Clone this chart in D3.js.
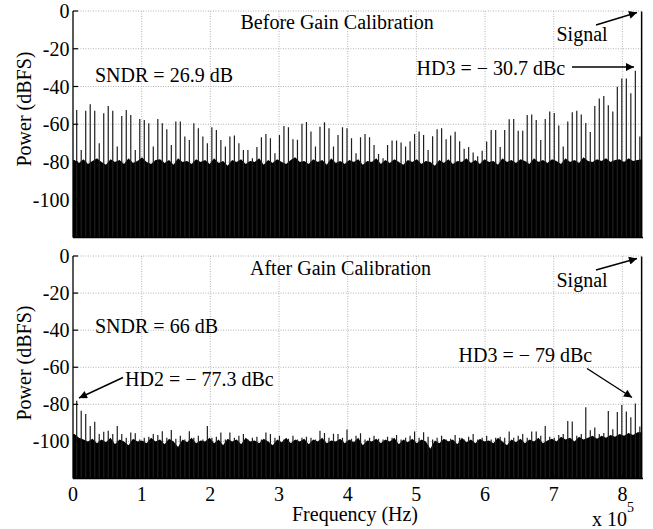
<!DOCTYPE html>
<html>
<head>
<meta charset="utf-8">
<title>Spectrum before / after gain calibration</title>
<script src="https://cdn.jsdelivr.net/npm/d3@7"></script>
<style>
  body { margin: 0; background: #fff; }
  svg text { font-family: "Liberation Serif", "Times New Roman", serif; fill: #000; }
</style>
</head>
<body>
<div id="chart"></div>
<script>
// ---- data ----
var fMax = 8.3e5;            // Nyquist, Hz
var binF0 = 5.4e3;           // first spur bin, Hz
var binDf = 6.56e3;          // spur bin spacing, Hz
var signalF = 8.28e5;        // input tone
var signalDb = -0.3;

var yTicks = [0, -20, -40, -60, -80, -100];
var xTicks = [0, 1, 2, 3, 4, 5, 6, 7, 8];   // x 10^5 Hz

// spur heights, dBFS
var spursBefore = [
  -52.4, -73.6, -52.8, -49.4, -52.8, -70, -54.2, -50.3, -52.8, -71.8,
  -55.6, -52.4, -55.1, -73.6, -57.2, -57.7, -59.5, -71.8, -57.2, -59.5,
  -62.7, -71, -58.6, -58.6, -66.5, -68.3, -59.5, -62.1, -66.5, -70,
  -61.6, -63, -68.3, -71.8, -66.5, -66, -70, -73.6, -73.6, -78,
  -72,
  -66.9, -65.1, -67.4, -75.4, -65.7, -60.9, -61.6, -68, -68.2, -59.8,
  -58.8, -63.9, -71.8, -61.3, -59, -62.1, -71.8, -65.7, -61.6, -62.1,
  -67.4, -75.4, -66.9, -65.1, -66.9, -71, -75.7, -78, -71, -68.6,
  -68.6, -69.7, -71.8, -69, -65.1, -63.9, -65.7, -73.6, -66.3, -62.7,
  -62.1, -68, -66,
  -64, -69, -73, -72, -75, -77, -74,
  -69.2, -63, -63, -72, -63, -57.4, -57.2, -63.5, -63.5, -55.1,
  -54.8, -57.7, -68.3, -57.2, -53.3, -54, -60.7, -71.8, -58.6, -53.7,
  -52.8, -54.8, -59.4, -64.1, -50.3, -46.3, -45, -49.9, -53.3, -40.1,
  -35.7, -35.7, -43.6, -31.6, -66.5
];

var floorBefore = [
  -79, -80.5, -78.5, -81, -79.5, -78, -80, -81.5, -78.5, -80,
  -79, -81, -78, -80.5, -79.5, -77.5, -80, -81, -79, -78.5,
  -80.5, -79, -81.5, -78, -80, -79.5, -81, -78.5, -80, -79,
  -81, -78, -80.5, -79.5, -82, -79, -80, -78.5, -81, -79.5,
  -80, -78, -81.5, -79, -80.5, -78.5, -80, -81, -79, -77.5,
  -80, -79.5, -81, -78.5, -80, -79, -81.5, -78, -80.5, -79.5,
  -81, -79, -80, -78.5, -81.5, -79.5, -80, -78, -81, -79,
  -80.5, -78.5, -80, -81.5, -79, -80, -78.5, -81, -79.5, -80,
  -82, -79, -80.5, -78.5, -81, -79.5, -80, -78, -80.5, -79,
  -81, -78.5, -80, -79.5, -81.5, -78, -80, -79, -80.5, -78.5,
  -79.5, -81, -78, -80, -79, -80.5, -78.5, -79.5, -81, -78,
  -80, -79, -80.5, -77.5, -79.5, -80, -78.5, -79.5, -78, -80,
  -79, -78.5, -80, -78, -79.5, -79, -78.5
];

var spursAfter = [
  -78, -83.4, -85.2, -91.7, -89.4, -96, -94.8, -94.3, -96, -91.7,
  -96, -98, -95.2, -95.6, -99, -98, -97.5, -96, -96.5, -94.5,
  -98, -93.9, -98.5, -97, -99, -94.5, -98, -97, -99, -91.7,
  -98, -97.5, -95.2, -99, -95.2, -98, -97, -96, -99, -98,
  -97.5, -99, -95.2, -96, -98, -97, -99, -98.5, -97, -99,
  -98, -97.5, -98, -99, -94.3, -95.5, -98, -95.8, -96, -98,
  -93.6, -98.5, -97, -95.6, -99, -98, -97, -98.5, -99, -97.5,
  -98, -96.5, -99, -98, -97, -94.6, -98, -95, -97.5, -99,
  -98, -97, -99, -98.5, -96.5, -98, -99, -97.5, -96, -99,
  -98, -97, -99, -98, -97.5, -98, -94.6, -98, -97, -96,
  -98, -94.6, -94.6, -97, -91.7, -97.5, -98, -96.5, -96, -89,
  -89.2, -97, -96, -81.6, -94, -92.5, -96, -95.5, -83.6, -93.5,
  -84.2, -80.4, -83.8, -87, -79.5, -92
];

var floorAfter = [
  -96, -98, -99, -100, -98.5, -101, -99, -100.5, -98, -101.5,
  -99, -100, -102, -98.5, -100, -99.5, -101, -98, -100, -99,
  -101.5, -98.5, -100, -103, -99, -100.5, -98, -101, -99.5, -100,
  -98, -101, -99, -102, -98.5, -100, -99, -101.5, -98, -100,
  -99.5, -101, -98.5, -100, -102, -99, -100.5, -98, -101, -99,
  -100, -98.5, -101.5, -99, -100, -98, -101, -99.5, -100, -98.5,
  -101, -99, -100.5, -98, -102, -99.5, -100, -98.5, -101, -99,
  -100, -98, -101.5, -99, -100.5, -98.5, -101, -99, -100, -104,
  -99.5, -101, -98.5, -100, -99, -101.5, -98, -100.5, -99, -101,
  -98.5, -100, -99.5, -101, -98, -100, -102, -99, -100.5, -98.5,
  -101, -99, -100, -98, -101, -99.5, -98.5, -100, -97.5, -99,
  -98, -100, -97.5, -99, -98, -97, -98.5, -97, -98, -96.5,
  -97.5, -96, -97, -95.5, -96.5, -95, -95
];

// ---- drawing ----
var svg = d3.select("#chart").append("svg")
    .attr("width", 653)
    .attr("height", 529);

var defs = svg.append("defs");
defs.append("marker")
    .attr("id", "arrow")
    .attr("viewBox", "0 0 10 10")
    .attr("refX", 10).attr("refY", 5)
    .attr("markerUnits", "userSpaceOnUse")
    .attr("markerWidth", 11).attr("markerHeight", 8)
    .attr("orient", "auto")
  .append("path")
    .attr("d", "M0,0 L10,5 L0,10 Z")
    .attr("fill", "#000");

var x = d3.scaleLinear().domain([0, fMax]).range([73, 643]);

function drawPanel(opts) {
    var y = d3.scaleLinear().domain([-120, 0]).range([opts.bottom, opts.top]);
    var g = svg.append("g");

    defs.append("clipPath").attr("id", opts.id)
      .append("rect")
        .attr("x", x(0)).attr("y", opts.top - 2)
        .attr("width", x(fMax) - x(0))
        .attr("height", opts.bottom - opts.top + 2);

    // grid
    g.selectAll(".vgrid").data(xTicks.slice(1)).enter().append("line")
        .attr("x1", function(d) { return x(d * 1e5); })
        .attr("x2", function(d) { return x(d * 1e5); })
        .attr("y1", y(0)).attr("y2", y(-120))
        .attr("stroke", "#b4b4b4").attr("stroke-width", 1)
        .attr("stroke-dasharray", "1,1.5");
    g.selectAll(".hgrid").data(yTicks).enter().append("line")
        .attr("x1", x(0)).attr("x2", x(fMax))
        .attr("y1", function(d) { return y(d); })
        .attr("y2", function(d) { return y(d); })
        .attr("stroke", "#b4b4b4").attr("stroke-width", 1)
        .attr("stroke-dasharray", "1,1.5");

    var spec = g.append("g").attr("clip-path", "url(#" + opts.id + ")");

    // noise floor
    var floorPts = opts.floor.map(function(v, i) {
        return { f: binF0 - binDf / 2 + i * binDf, v: v };
    });
    floorPts.unshift({ f: 0, v: opts.floor[0] });
    spec.append("path")
        .datum(floorPts)
        .attr("fill", "#000")
        .attr("d", d3.area()
            .x(function(d) { return x(d.f); })
            .y0(y(-120))
            .y1(function(d) { return y(d.v); }));

    // spurs
    spec.selectAll(".spur").data(opts.spurs).enter().append("line")
        .attr("x1", function(d, i) { return x(binF0 + i * binDf); })
        .attr("x2", function(d, i) { return x(binF0 + i * binDf); })
        .attr("y1", y(-120))
        .attr("y2", function(d) { return y(d); })
        .attr("stroke", "#1e1e1e").attr("stroke-width", 1.2);

    // signal tone
    spec.append("line")
        .attr("x1", x(signalF)).attr("x2", x(signalF))
        .attr("y1", y(-120)).attr("y2", y(signalDb))
        .attr("stroke", "#000").attr("stroke-width", 1.5);

    // axes
    g.append("line")
        .attr("x1", x(0)).attr("x2", x(0))
        .attr("y1", y(0)).attr("y2", y(-120))
        .attr("stroke", "#000").attr("stroke-width", 1.3);
    g.append("line")
        .attr("x1", x(0)).attr("x2", x(fMax))
        .attr("y1", y(-120)).attr("y2", y(-120))
        .attr("stroke", "#000").attr("stroke-width", 1.3);
    g.selectAll(".ytick").data(yTicks).enter().append("line")
        .attr("x1", x(0)).attr("x2", x(0) + 5)
        .attr("y1", function(d) { return y(d); })
        .attr("y2", function(d) { return y(d); })
        .attr("stroke", "#000").attr("stroke-width", 1.2);

    g.selectAll(".ylab").data(yTicks).enter().append("text")
        .attr("x", 69.5)
        .attr("y", function(d) { return y(d) + 7; })
        .attr("text-anchor", "end")
        .attr("font-size", 20)
        .text(function(d) { return d === 0 ? "0" : "-" + Math.abs(d); });

    g.append("text")
        .attr("transform", "translate(31," + opts.ylabelY + ") rotate(-90)")
        .attr("text-anchor", "middle")
        .attr("font-size", 20)
        .text("Power (dBFS)");

    // annotations
    opts.notes.forEach(function(n) {
        g.append("text")
            .attr("x", n.x).attr("y", n.y)
            .attr("font-size", 20)
            .text(n.t);
    });
    opts.arrows.forEach(function(a) {
        g.append("line")
            .attr("x1", a[0]).attr("y1", a[1])
            .attr("x2", a[2]).attr("y2", a[3])
            .attr("stroke", "#000").attr("stroke-width", 1.4)
            .attr("marker-end", "url(#arrow)");
    });
    return { g: g, y: y };
}

drawPanel({
    id: "clipTop", top: 11, bottom: 237.5, ylabelY: 109,
    spurs: spursBefore, floor: floorBefore,
    notes: [
        { x: 240.5, y: 29, t: "Before Gain Calibration" },
        { x: 95, y: 81.5, t: "SNDR = 26.9 dB" },
        { x: 556.5, y: 40.5, t: "Signal" },
        { x: 416.5, y: 75, t: "HD3 = \u2212 30.7 dBc" }
    ],
    arrows: [
        [596, 25, 637, 12.5],
        [572, 67, 634, 67]
    ]
});

var bottom = drawPanel({
    id: "clipBottom", top: 256, bottom: 478.5, ylabelY: 363,
    spurs: spursAfter, floor: floorAfter,
    notes: [
        { x: 250, y: 274.5, t: "After Gain Calibration" },
        { x: 95, y: 333, t: "SNDR = 66 dB" },
        { x: 556.5, y: 286.5, t: "Signal" },
        { x: 125, y: 386, t: "HD2 = \u2212 77.3 dBc" },
        { x: 458.5, y: 362, t: "HD3 = \u2212 79 dBc" }
    ],
    arrows: [
        [596, 270, 637, 258.5],
        [123, 377.5, 79, 398],
        [587, 368.5, 632, 397.5]
    ]
});

// x axis labels (bottom panel only)
bottom.g.selectAll(".xlab").data(xTicks).enter().append("text")
    .attr("x", function(d) { return x(d * 1e5); })
    .attr("y", 501)
    .attr("text-anchor", "middle")
    .attr("font-size", 20)
    .text(function(d) { return d; });

bottom.g.selectAll(".xtick").data(xTicks.slice(1)).enter().append("line")
    .attr("x1", function(d) { return x(d * 1e5); })
    .attr("x2", function(d) { return x(d * 1e5); })
    .attr("y1", 478.5).attr("y2", 473.5)
    .attr("stroke", "#000");

svg.append("text")
    .attr("x", 355).attr("y", 521)
    .attr("text-anchor", "middle")
    .attr("font-size", 20)
    .text("Frequency (Hz)");

var expo = svg.append("text").attr("x", 592).attr("y", 526).attr("font-size", 20);
expo.append("tspan").text("x 10");
expo.append("tspan").attr("dy", -14).attr("font-size", 14).text("5");
</script>
</body>
</html>
